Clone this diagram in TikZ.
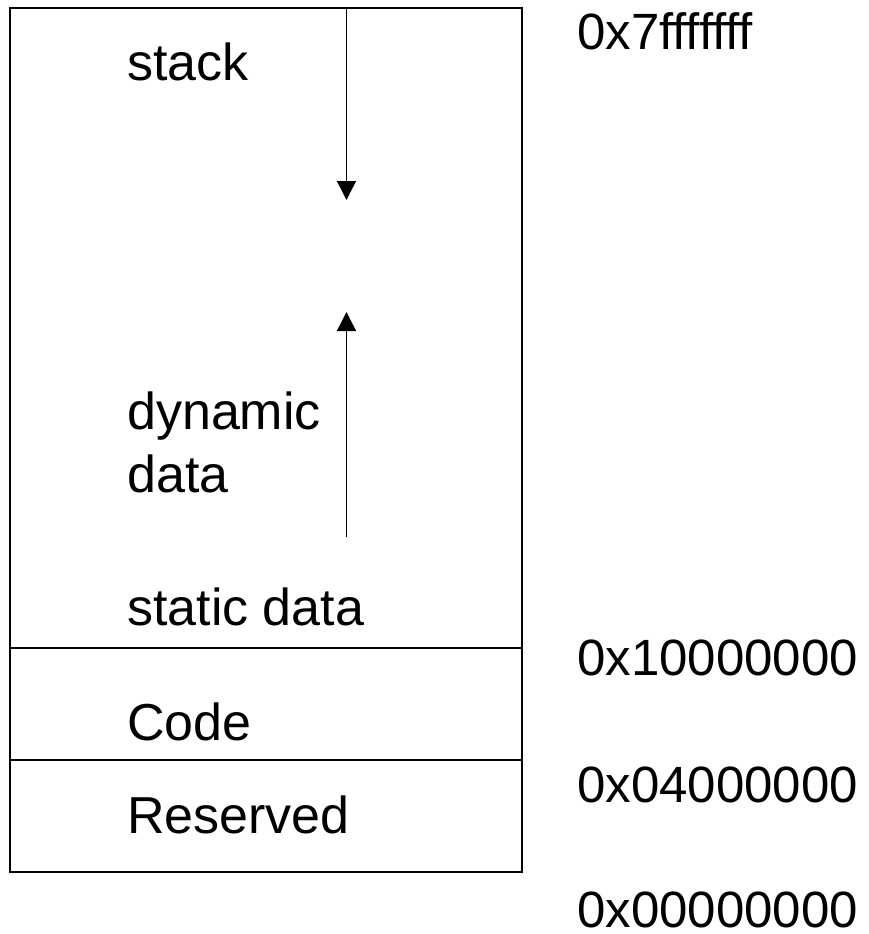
\documentclass[tikz,border=0pt]{standalone}
\usepackage{fontspec}
\setmainfont{Liberation Sans}
\usetikzlibrary{arrows.meta}
\begin{document}
\begin{tikzpicture}[x=1pt,y=-1pt,
  lbl/.style={anchor=base west,inner sep=0pt,font=\fontsize{52}{63}\selectfont},
  addr/.style={anchor=base west,inner sep=0pt,font=\fontsize{51}{63}\selectfont},
  frame/.style={line width=2pt},
  divider/.style={line width=1.3pt},
  growth/.style={line width=1.5pt,-{Triangle[width=19pt,length=19pt]}}]
\useasboundingbox (0,0) rectangle (868,934);
\draw[frame] (10,8) rectangle (522,872);
\coordinate (d1l) at (10,648);
\coordinate (d1r) at (522,648);
\coordinate (d2l) at (10,760);
\coordinate (d2r) at (522,760);
\draw[divider] (d1l) -- (d1r);
\draw[divider] (d2l) -- (d2r);
\coordinate (stacktop) at (346.5,8);
\coordinate (stacktip) at (346.5,200);
\coordinate (heapbot) at (346.5,537);
\coordinate (heaptip) at (346.5,312);
\draw[growth] (stacktop) -- (stacktip);
\draw[growth] (heapbot) -- (heaptip);
\node[lbl] (stack) at (127,81) {stack};
\node[lbl] (dyn) at (127,429) {dynamic};
\node[lbl] (dyn2) at (127,492) {data};
\node[lbl] (static) at (127,625) {static data};
\node[lbl] (code) at (127,740) {Code};
\node[lbl] (res) at (127,833) {Reserved};
\node[addr] (a1) at (577,49) {0x7fffffff};
\node[addr] (a2) at (577,675) {0x10000000};
\node[addr] (a3) at (577,802) {0x04000000};
\node[addr] (a4) at (577,927) {0x00000000};
\end{tikzpicture}
\end{document}
